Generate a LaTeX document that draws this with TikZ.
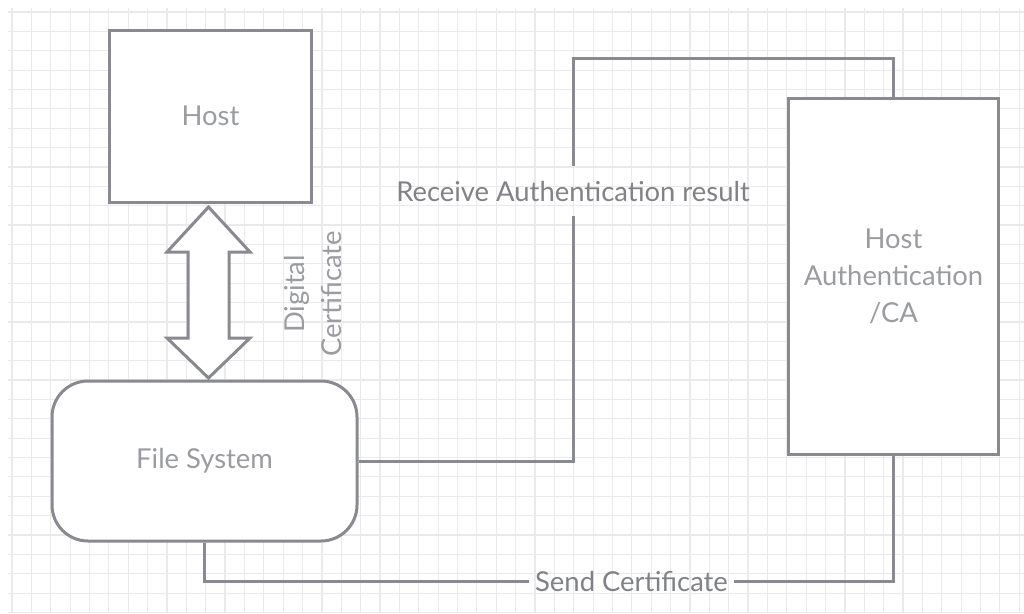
\documentclass[tikz,border=0pt]{standalone}
\usepackage{fontspec}
\setmainfont{Lato}
\usetikzlibrary{calc}

\definecolor{edgegray}{HTML}{888A8F}
\definecolor{boxtext}{HTML}{9A9CA0}
\definecolor{linktext}{HTML}{808286}
\definecolor{gridgray}{HTML}{EAEAEA}

\begin{document}
\begin{tikzpicture}[x=1pt,y=-1pt,
  box/.style={draw=edgegray, line width=3pt, fill=white, text=boxtext,
    font=\fontsize{27.4}{37}\selectfont, align=center, inner sep=0pt},
  link/.style={draw=edgegray, line width=3pt},
  linklabel/.style={text=linktext, font=\fontsize{27.4}{37}\selectfont, inner sep=0pt},
  gridline/.style={draw=gridgray, line width=1.2pt}]

% canvas
\fill[white] (0,0) rectangle (1024,613);
\useasboundingbox (0,0) rectangle (1024,613);
\begin{scope}
  \clip (8,8) rectangle (1024,613);
  \foreach \k in {0,...,52} \draw[gridline] ({12+19.37*\k},0) -- ({12+19.37*\k},613);
  \foreach \k in {0,...,31} \draw[gridline] (0,{12+19.37*\k}) -- (1024,{12+19.37*\k});
\end{scope}

% boxes
\node[box, minimum width=202pt, minimum height=172pt] (host) at (210.5,116) {Host};
\node[box, minimum width=305pt, minimum height=160pt, rounded corners=36pt] (fs) at (204.5,461) {File System};
\node[box, minimum width=210pt, minimum height=356pt] (ca) at (893.5,276) {Host\\Authentication\\/CA};

% two-way certificate exchange between host and file system
\coordinate (tipA) at (208.5,207);
\coordinate (tipB) at (208.5,378);
\draw[edgegray, line width=3pt, fill=white, line join=miter]
  (tipA) -- ++(41.5,45) -- ++(-21,0) -- ++(0,86) -- ++(21,0) -- (tipB)
  -- ++(-41.5,-40) -- ++(21,0) -- ++(0,-86) -- ++(-21,0) -- cycle;
\node[text=boxtext, font=\fontsize{27.4}{37}\selectfont, align=center, rotate=90] (dc) at (313.5,294) {Digital\\Certificate};

% result path: file system -> CA (label breaks the line)
\coordinate (rtop) at (573,58);
\coordinate (rlo) at (573,216);
\coordinate (rhi) at (573,166);
\draw[link] (fs.east) -| (rlo);
\draw[link] (rhi) -- (rtop) -| (ca.north);
\node[linklabel] (recv) at (573,192) {Receive Authentication result};

% certificate path: file system -> CA (label breaks the line)
\coordinate (sl) at (529,581);
\coordinate (sr) at (734,581);
\draw[link] (fs.south) |- (sl);
\draw[link] (sr) -| (ca.south);
\node[linklabel] (send) at (631.5,582) {Send Certificate};
\end{tikzpicture}
\end{document}
